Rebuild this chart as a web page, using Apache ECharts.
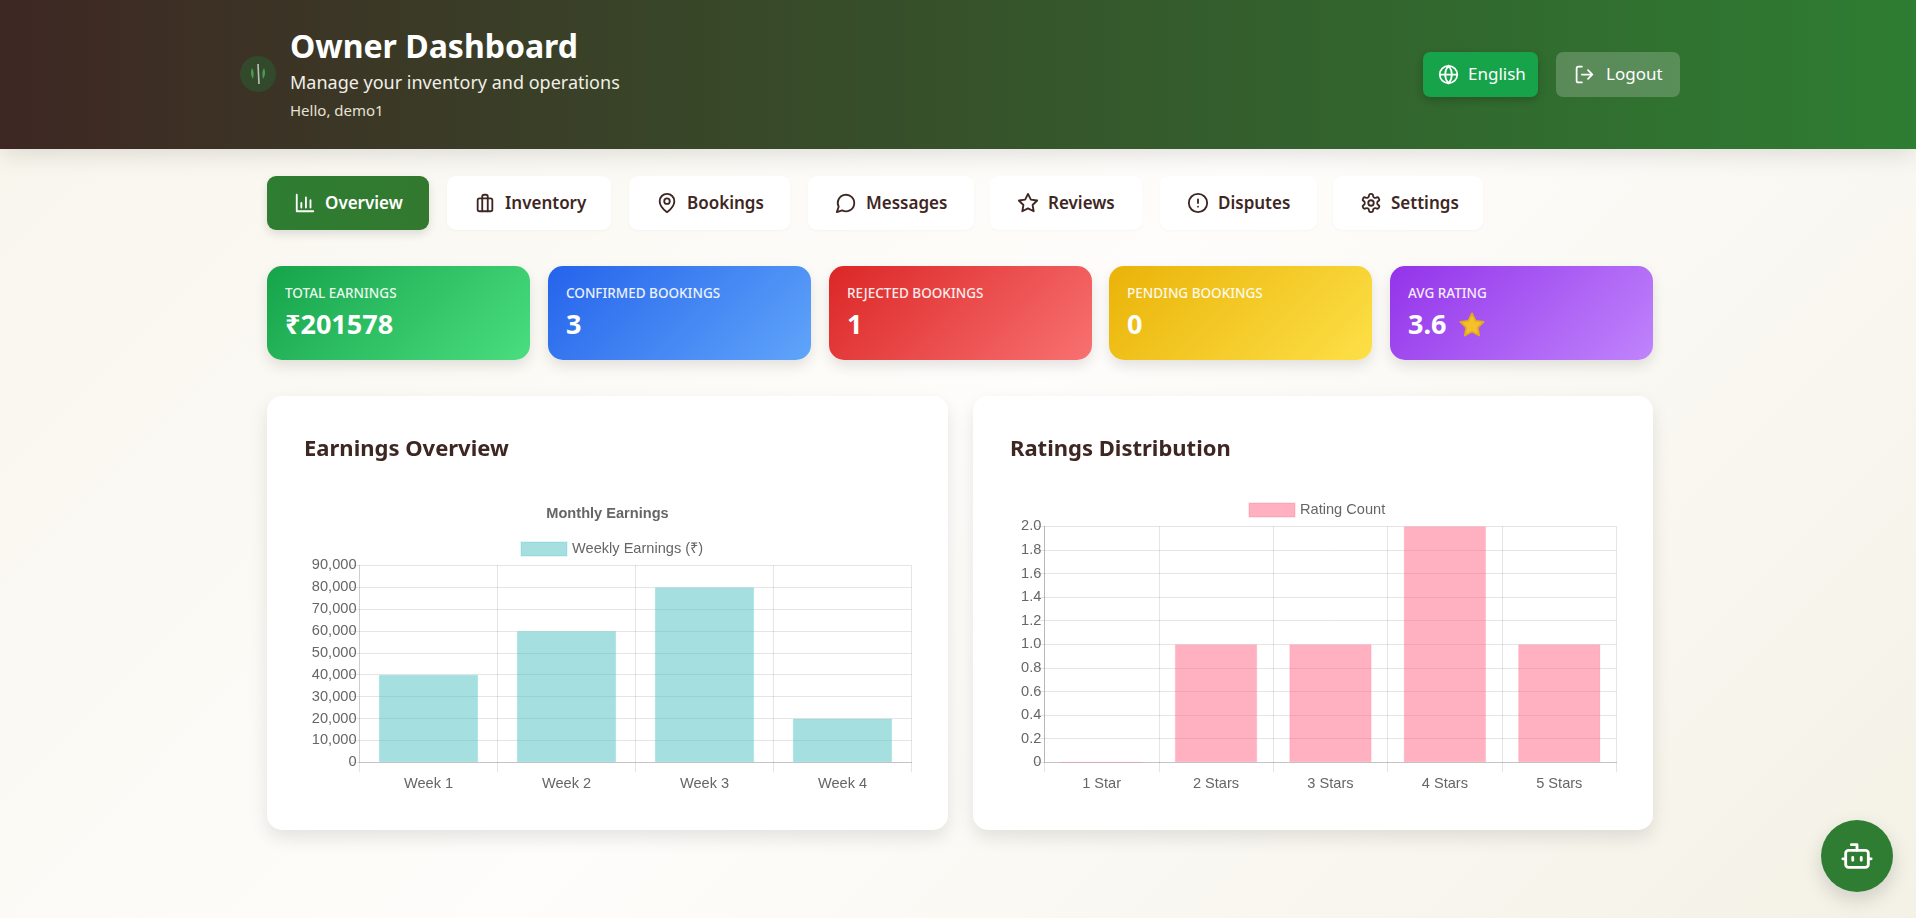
<!DOCTYPE html>
<html>
<head>
<meta charset="utf-8">
<title>Owner Dashboard</title>
<script src="https://cdn.jsdelivr.net/npm/echarts@6/dist/echarts.min.js"></script>
<style>
html, body { margin: 0; padding: 0; width: 1916px; height: 918px; overflow: hidden; }
body { background: linear-gradient(135deg, #f8f5ec 0%, #fefdfb 50%, #f4f1e6 100%); font-family: "Noto Sans", sans-serif; color: #3e2723; position: relative; }
div, svg { position: absolute; box-sizing: border-box; }
.header { left: 0; top: 0; width: 1916px; height: 149px; background: linear-gradient(90deg, #3e2723, #2e7d32); box-shadow: 0 5px 24px rgba(0,0,0,.12); }
.txt { white-space: nowrap; line-height: 1; }
.btn { top: 52px; height: 45px; border-radius: 7px; color: #fff; font-size: 17px; }
.tab { top: 176px; height: 54px; border-radius: 9px; background: #fff; font-size: 17px; font-weight: 600; box-shadow: 0 1px 3px rgba(0,0,0,.03); }
.tab.active { background: linear-gradient(90deg, #2e7d32, #32792f); color: #fff; box-shadow: 0 4px 10px rgba(0,0,0,.12); }
.stat { top: 266px; height: 94px; width: 263px; border-radius: 15px; color: #fff; box-shadow: 0 6px 14px rgba(0,0,0,.11); }
.panel { top: 396px; height: 434px; background: #fff; border-radius: 15px; box-shadow: 0 8px 18px rgba(0,0,0,.1); }
.chart { left: 0; top: 0; height: 434px; }
.icon { fill: none; stroke: currentColor; stroke-width: 2; stroke-linecap: round; stroke-linejoin: round; }
</style>
</head>
<body>
<div class="header">
  <svg style="left:240px;top:56px" width="36" height="36" viewBox="0 0 36 36">
    <circle cx="18" cy="18" r="18" fill="#33492c"/>
    <path d="M12 12 C10 16 11 20 13 23 C14 19 14 15 12 12Z M24 12 C26 16 25 20 23 23 C22 19 22 15 24 12Z" fill="#4c9a4f"/>
    <path d="M18 8 L19 28" stroke="#b9c4b3" stroke-width="1.6"/>
  </svg>
  <div class="txt" style="left:290px;top:30px;font-size:32px;font-weight:700;color:#fff">Owner Dashboard</div>
  <div class="txt" style="left:290px;top:73px;font-size:18px;color:#f1efe6">Manage your inventory and operations</div>
  <div class="txt" style="left:290px;top:103px;font-size:15px;color:#e6e2d6">Hello, demo1</div>
  <div class="btn" style="left:1423px;width:115px;background:#16a34a;box-shadow:0 3px 8px rgba(0,0,0,.2)">
    <svg class="icon" style="left:15px;top:12px" width="21" height="21" viewBox="0 0 24 24"><circle cx="12" cy="12" r="10"/><path d="M2 12h20M12 2a15 15 0 0 1 0 20M12 2a15 15 0 0 0 0 20"/></svg>
    <div class="txt" style="left:45px;top:13px">English</div>
  </div>
  <div class="btn" style="left:1556px;width:124px;background:rgba(255,255,255,.2)">
    <svg class="icon" style="left:18px;top:12px" width="21" height="21" viewBox="0 0 24 24"><path d="M9 21H5a2 2 0 0 1-2-2V5a2 2 0 0 1 2-2h4M16 17l5-5-5-5M21 12H9"/></svg>
    <div class="txt" style="left:50px;top:13px">Logout</div>
  </div>
</div>
<div id="tabs"></div>
<div id="stats"></div>
<div class="panel" style="left:267px;width:681px">
  <div class="chart" id="earnings_chart" style="width:681px"></div>
  <div class="txt" style="left:37px;top:40px;font-size:22px;font-weight:700">Earnings Overview</div>
</div>
<div class="panel" style="left:973px;width:680px">
  <div class="chart" id="ratings_chart" style="width:680px"></div>
  <div class="txt" style="left:37px;top:40px;font-size:22px;font-weight:700">Ratings Distribution</div>
</div>
<div style="left:1821px;top:820px;width:72px;height:72px;border-radius:50%;background:#2e7d32;box-shadow:0 8px 20px rgba(0,0,0,.15);color:#fff">
  <svg class="icon" style="left:19px;top:19px" width="34" height="34" viewBox="0 0 24 24"><path d="M12 8V4H8"/><rect x="4" y="8" width="16" height="12" rx="2"/><path d="M2 14h2M20 14h2M15 13v2M9 13v2"/></svg>
</div>
<script>
// 图表数据
var weekLabels = ['Week 1', 'Week 2', 'Week 3', 'Week 4'];
var weekEarnings = [40000, 60000, 80000, 20000];
var starLabels = ['1 Star', '2 Stars', '3 Stars', '4 Stars', '5 Stars'];
var ratingCounts = [0, 1, 1, 2, 1];

// 页面上的导航和统计卡片
var tabNames = ['Overview', 'Inventory', 'Bookings', 'Messages', 'Reviews', 'Disputes', 'Settings'];
var tabLeft = [267, 447, 629, 808, 990, 1160, 1333];
var tabWidth = [162, 164, 161, 166, 152, 157, 150];
var tabIcons = [
    '<path d="M3 3v18h18"/><path d="M8 17v-5M13 17V6M18 17V9"/>',
    '<rect x="4" y="7" width="16" height="14" rx="2"/><path d="M9 21V5a2 2 0 0 1 2-2h2a2 2 0 0 1 2 2v16"/>',
    '<path d="M20 10c0 6-8 12-8 12s-8-6-8-12a8 8 0 0 1 16 0Z"/><circle cx="12" cy="10" r="3"/>',
    '<path d="M7.9 20A9 9 0 1 0 4 16.1L2 22Z"/>',
    '<path d="M12 2l3.1 6.3 6.9 1-5 4.9 1.2 6.8-6.2-3.2-6.2 3.2L7 14.2l-5-4.9 6.9-1Z"/>',
    '<circle cx="12" cy="12" r="10"/><path d="M12 8v4M12 16h.01"/>',
    '<circle cx="12" cy="12" r="3"/><path d="M12.2 2h-.4a2 2 0 0 0-2 2v.2a2 2 0 0 1-1 1.7l-.4.3a2 2 0 0 1-2 0l-.2-.1a2 2 0 0 0-2.7.7l-.2.4a2 2 0 0 0 .7 2.7l.2.1a2 2 0 0 1 1 1.7v.5a2 2 0 0 1-1 1.8l-.2.1a2 2 0 0 0-.7 2.7l.2.4a2 2 0 0 0 2.7.7l.2-.1a2 2 0 0 1 2 0l.4.3a2 2 0 0 1 1 1.7v.2a2 2 0 0 0 2 2h.4a2 2 0 0 0 2-2v-.2a2 2 0 0 1 1-1.7l.4-.3a2 2 0 0 1 2 0l.2.1a2 2 0 0 0 2.7-.7l.2-.4a2 2 0 0 0-.7-2.7l-.2-.1a2 2 0 0 1-1-1.8v-.5a2 2 0 0 1 1-1.7l.2-.1a2 2 0 0 0 .7-2.7l-.2-.4a2 2 0 0 0-2.7-.7l-.2.1a2 2 0 0 1-2 0l-.4-.3a2 2 0 0 1-1-1.7V4a2 2 0 0 0-2-2Z"/>'
];
var statLabels = ['TOTAL EARNINGS', 'CONFIRMED BOOKINGS', 'REJECTED BOOKINGS', 'PENDING BOOKINGS', 'AVG RATING'];
var statValues = ['₹201578', '3', '1', '0', '3.6'];
var statLeft = [267, 548, 829, 1109, 1390];
var statColors = [
    ['#16a34a', '#4ade80'],
    ['#2563eb', '#60a5fa'],
    ['#dc2626', '#f87171'],
    ['#eab308', '#fde047'],
    ['#9333ea', '#c084fc']
];

var html = '';
tabNames.forEach(function (name, i) {
    html += '<div class="tab' + (i === 0 ? ' active' : '') + '" style="left:' + tabLeft[i] + 'px;width:' + tabWidth[i] + 'px">' +
        '<svg class="icon" style="left:27px;top:16px" width="22" height="22" viewBox="0 0 24 24">' + tabIcons[i] + '</svg>' +
        '<div class="txt" style="left:58px;top:18px">' + name + '</div></div>';
});
document.getElementById('tabs').innerHTML = html;

html = '';
statLabels.forEach(function (label, i) {
    html += '<div class="stat" style="left:' + statLeft[i] + 'px;background:linear-gradient(135deg,' + statColors[i][0] + ',' + statColors[i][1] + ')">' +
        '<div class="txt" style="left:18px;top:21px;font-size:13.5px;font-weight:500;opacity:.9">' + label + '</div>' +
        '<div class="txt" style="left:18px;top:44px;font-size:27px;font-weight:700">' + statValues[i] + '</div>';
    if (i === 4) {
        html += '<svg style="left:68px;top:45px" width="28" height="28" viewBox="0 0 24 24"><path d="M12 2l3.1 6.3 6.9 1-5 4.9 1.2 6.8-6.2-3.2-6.2 3.2L7 14.2l-5-4.9 6.9-1Z" fill="#f5c02c" stroke="#e0a820" stroke-width="1.5" stroke-linejoin="round"/></svg>';
    }
    html += '</div>';
});
document.getElementById('stats').innerHTML = html;

var chartFont = '"Liberation Sans", Arial, sans-serif';
var gridColor = 'rgba(0,0,0,0.1)';

function buildOption(cfg) {
    return {
        animation: false,
        title: {
            show: !!cfg.title,
            text: cfg.title,
            left: 'center',
            top: 105,
            textStyle: { fontFamily: chartFont, fontSize: 14.6, fontWeight: 'bold', color: '#666' }
        },
        legend: {
            data: [cfg.name],
            left: cfg.legendLeft,
            top: cfg.legendTop,
            padding: 0,
            itemWidth: 46,
            itemHeight: 14,
            icon: 'rect',
            textStyle: { fontFamily: chartFont, fontSize: 14.6, color: '#666' }
        },
        grid: { left: cfg.gridLeft, right: 36.5, top: cfg.gridTop, bottom: 67.7 },
        xAxis: {
            type: 'category',
            data: cfg.labels,
            axisLine: { lineStyle: { color: '#c4c4c4', width: 1 } },
            axisTick: { show: true, length: 10, lineStyle: { color: gridColor } },
            axisLabel: { fontFamily: chartFont, fontSize: 14.6, color: '#666', margin: 14 },
            splitLine: { show: true, lineStyle: { color: gridColor } }
        },
        yAxis: {
            type: 'value',
            min: 0,
            max: cfg.max,
            interval: cfg.interval,
            axisLine: { show: true, lineStyle: { color: cfg.yLineColor, width: 1 } },
            axisTick: { show: true, length: 10, lineStyle: { color: gridColor } },
            axisLabel: { fontFamily: chartFont, fontSize: 14.6, color: '#666', margin: 3, formatter: cfg.formatter },
            splitLine: { show: true, lineStyle: { color: gridColor } }
        },
        series: [{
            name: cfg.name,
            type: 'bar',
            barWidth: '72%',
            data: cfg.values,
            itemStyle: { color: cfg.color, borderColor: cfg.border, borderWidth: 1 }
        }]
    };
}

var earningsChart = echarts.init(document.getElementById('earnings_chart'));
earningsChart.setOption(buildOption({
    title: 'Monthly Earnings',
    name: 'Weekly Earnings (₹)',
    labels: weekLabels,
    values: weekEarnings,
    max: 90000,
    interval: 10000,
    formatter: function (v) { return v.toLocaleString('en-US'); },
    color: 'rgba(75,192,192,0.5)',
    border: 'rgba(75,192,192,0.15)',
    yLineColor: 'rgba(0,0,0,0.1)',
    gridLeft: 92.5,
    gridTop: 169.3,
    legendLeft: 253,
    legendTop: 145
}));

var ratingsChart = echarts.init(document.getElementById('ratings_chart'));
ratingsChart.setOption(buildOption({
    title: '',
    name: 'Rating Count',
    labels: starLabels,
    values: ratingCounts,
    max: 2,
    interval: 0.2,
    formatter: function (v) { return v === 0 ? '0' : v.toFixed(1); },
    color: 'rgba(255,99,132,0.5)',
    border: 'rgba(255,99,132,0.15)',
    yLineColor: 'rgba(0,0,0,0.2)',
    gridLeft: 71.4,
    gridTop: 130.3,
    legendLeft: 275,
    legendTop: 106
}));
</script>
</body>
</html>
